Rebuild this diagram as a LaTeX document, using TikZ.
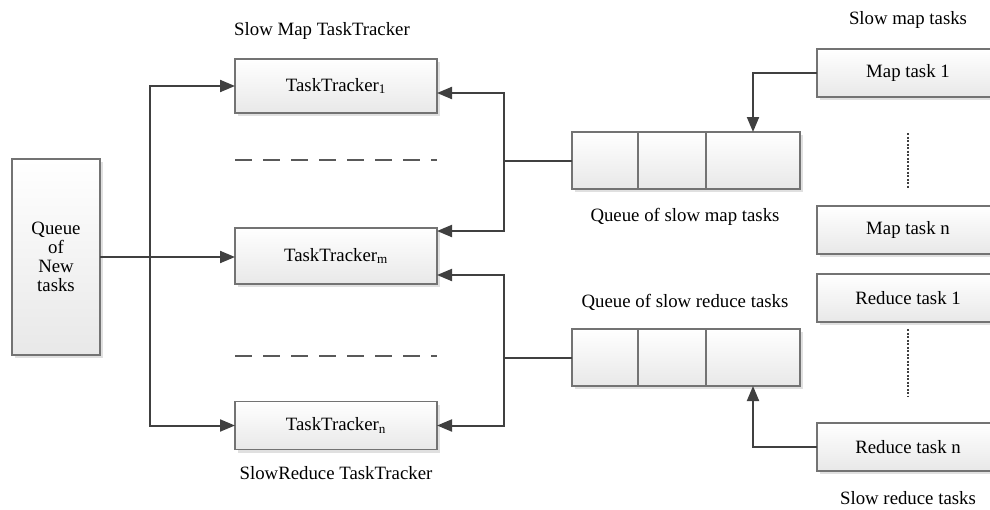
\documentclass[tikz,border=0pt]{standalone}
\usepackage{fontspec}
\setmainfont{Liberation Serif}
\usetikzlibrary{arrows.meta,positioning,shadows,calc}

\begin{document}
\begin{tikzpicture}[
        x=1pt, y=-1pt,
        font=\fontsize{18.8}{18.8}\selectfont,
        box/.style={draw=black!55, line width=1.2pt, top color=white, bottom color=black!9, outer sep=0pt, inner sep=0pt, align=center,
            drop shadow={shadow xshift=3pt, shadow yshift=-3pt, fill=black!12, opacity=1}},
        tracker/.style={box, minimum width=202pt},
        task/.style={box, minimum width=182pt, minimum height=48pt},
        cell/.style={box, minimum height=57pt},
        link/.style={draw=black!75, line width=2pt},
        arr/.style={link, -{Triangle[length=15pt,width=12pt]}},
        gap/.style={draw=black!65, line width=1.5pt, dash pattern=on 17pt off 11pt},
        dots/.style={draw=black!75, line width=2pt, dash pattern=on 2pt off 1.5pt}
    ]
        \useasboundingbox (0,0) rectangle (990,509);
        \clip (0,0) rectangle (990,509);

        \node[box, minimum width=88pt, minimum height=196pt] (new) at (56,257) {Queue\\of\\New\\tasks};

        \node[tracker, minimum height=54pt] (tt1) at (336,86) {TaskTracker\textsubscript{1}};
        \node[tracker, minimum height=56pt] (ttm) at (336,256) {TaskTracker\textsubscript{m}};
        \node[tracker, minimum height=48pt] (ttn) at (336,425.5) {TaskTracker\textsubscript{n}};
        \node (maptrk) at (322,31) {Slow Map TaskTracker};
        \node (redtrk) at (336,473) {SlowReduce TaskTracker};

        \draw[gap] (235,160) -- (437,160);
        \draw[gap] (235,356) -- (437,356);

        \node[cell, minimum width=66pt] (mq1) at (605,160.5) {};
        \node[cell, minimum width=68pt, right=0pt of mq1] (mq2) {};
        \node[cell, minimum width=94pt, right=0pt of mq2] (mq3) {};
        \node (mqlabel) at (685,217) {Queue of slow map tasks};

        \node[cell, minimum width=66pt] (rq1) at (605,357.5) {};
        \node[cell, minimum width=68pt, right=0pt of rq1] (rq2) {};
        \node[cell, minimum width=94pt, right=0pt of rq2] (rq3) {};
        \node (rqlabel) at (685,302) {Queue of slow reduce tasks};

        \node[task] (mt1) at (908,73) {Map task 1};
        \node[task] (mtn) at (908,230) {Map task n};
        \node[task] (rt1) at (908,298) {Reduce task 1};
        \node[task] (rtn) at (908,447) {Reduce task n};
        \node (maplabel) at (908,20) {Slow map tasks};
        \node (redlabel) at (908,498) {Slow reduce tasks};
        \draw[dots] (908,133) -- (908,188);
        \draw[dots] (908,329) -- (908,397);

        \coordinate (fork) at ($(new.east)+(50,0)$);
        \coordinate (mapfork) at ($(mq1.west)+(-68,0)$);
        \coordinate (redfork) at ($(rq1.west)+(-68,0)$);

        \draw[arr] (new.east) -- (new.east -| ttm.west);
        \draw[arr] (fork) |- (tt1);
        \draw[arr] (fork) |- (ttn);

        \draw[link] (mq1.west) -- (mapfork);
        \draw[arr] (mapfork) |- ($(tt1.east)+(0,7)$);
        \draw[arr] (mapfork) |- ($(ttm.north east)+(0,3)$);

        \draw[link] (rq1.west) -- (redfork);
        \draw[arr] (redfork) |- ($(ttm.south east)+(0,-9)$);
        \draw[arr] (redfork) |- (ttn);

        \draw[arr] (mt1.west) -| (mq3.north);
        \draw[arr] (rtn.west) -| (rq3.south);
\end{tikzpicture}
\end{document}
